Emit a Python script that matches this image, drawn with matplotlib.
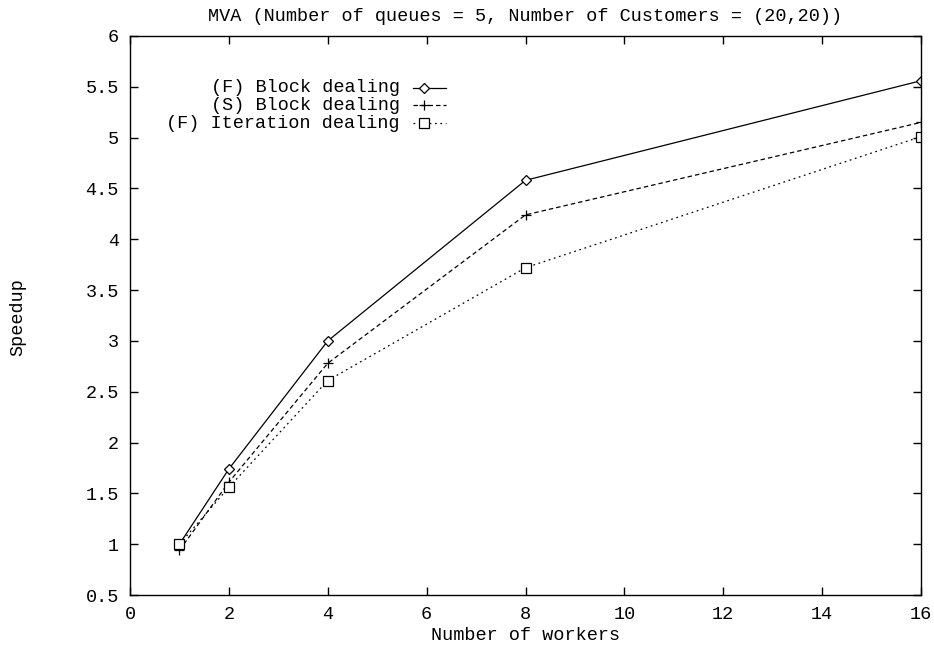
import matplotlib
matplotlib.use('Agg')
import matplotlib.pyplot as plt
from matplotlib.lines import Line2D
from matplotlib.ticker import FuncFormatter

# numero de workers
workers = [1, 2, 4, 8, 16]

# speedup de cada variante
f_block = [1.0, 1.74, 3.0, 4.58, 5.56]
s_block = [0.94, 1.61, 2.78, 4.24, 5.15]
f_iter = [1.0, 1.56, 2.61, 3.72, 5.01]

labels = ['(F) Block dealing', '(S) Block dealing', '(F) Iteration dealing']
markers = ['D', '+', 's']
marker_sizes = [5, 7, 6.5]
dashes = [(None, None), (3.6, 2.4), (1.4, 2.9)]

x_ticks = [0, 2, 4, 6, 8, 10, 12, 14, 16]
y_ticks = [0.5, 1, 1.5, 2, 2.5, 3, 3.5, 4, 4.5, 5, 5.5, 6]

FS = 13.3
plt.rcParams['font.family'] = ['Liberation Mono', 'DejaVu Sans Mono']
plt.rcParams['font.size'] = FS

fig = plt.figure(figsize=(9.34, 6.47), dpi=100)
ax = fig.add_axes([130 / 934, 1 - 595 / 647, 791 / 934, 559 / 647])

series = [f_block, s_block, f_iter]
for i, ys in enumerate(series):
    line, = ax.plot(workers, ys, color='black', lw=0.9, marker=markers[i],
                    markersize=marker_sizes[i], markerfacecolor='white',
                    markeredgecolor='black', markeredgewidth=0.9)
    if dashes[i][0] is not None:
        line.set_dashes(dashes[i])

# leyenda al estilo gnuplot: texto alineado a la derecha, muestra a la derecha
key_y = [0.907, 0.876, 0.844]
for i in range(3):
    ax.text(0.341, key_y[i], labels[i], transform=ax.transAxes,
            ha='right', va='center', fontsize=FS)
    sample = Line2D([0.358, 0.400], [key_y[i], key_y[i]], transform=ax.transAxes,
                    color='black', lw=0.9)
    if dashes[i][0] is not None:
        sample.set_dashes(dashes[i])
    ax.add_line(sample)
    ax.add_line(Line2D([0.372], [key_y[i]], transform=ax.transAxes,
                       marker=markers[i], markersize=marker_sizes[i],
                       markerfacecolor='white', markeredgecolor='black',
                       markeredgewidth=0.9, linestyle='none'))

ax.set_xlim(0, 16)
ax.set_ylim(0.5, 6)
ax.set_xticks(x_ticks)
ax.set_yticks(y_ticks)
ax.yaxis.set_major_formatter(FuncFormatter(lambda v, p: '%g' % v))
ax.tick_params(direction='in', length=6, width=1, top=True, right=True,
               pad=8, labelsize=FS)
for s in ax.spines.values():
    s.set_linewidth(1.0)

ax.set_xlabel('Number of workers', labelpad=3, fontsize=FS)
fig.text(18 / 934, 1 - 317 / 647, 'Speedup', rotation=90, ha='center', va='center',
         fontsize=FS)
ax.set_title('MVA (Number of queues = 5, Number of Customers = (20,20))', pad=11,
             fontsize=FS)

fig.savefig('out.png', dpi=100)
